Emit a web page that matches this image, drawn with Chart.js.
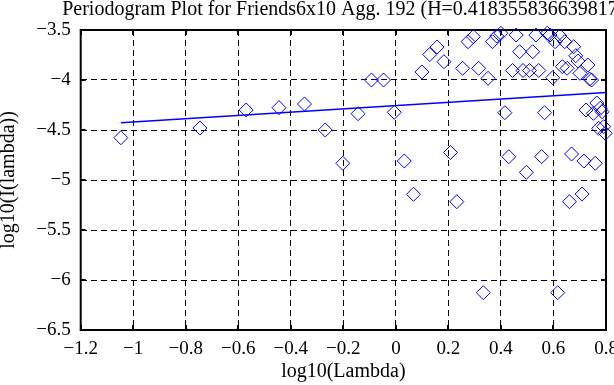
<!DOCTYPE html>
<html>
<head>
<meta charset="utf-8">
<script src="https://cdn.jsdelivr.net/npm/chart.js@4"></script>
<style>
  html, body { margin: 0; padding: 0; background: #fff; overflow: hidden; }
  #wrap { width: 614px; height: 385px; position: relative; }
</style>
</head>
<body>
<div id="wrap"><canvas id="c" width="614" height="385"></canvas></div>
<script>
const chartTitle = 'Periodogram Plot for Friends6x10 Agg. 192 (H=0.418355836639817)';
const xAxisTitle = 'log10(Lambda)';
const yAxisTitle = 'log10(I(lambda))';

const logLambda = [
  -1.047, -0.746, -0.570, -0.445, -0.348, -0.269, -0.202, -0.144, -0.093, -0.047,
  -0.006, 0.032, 0.067, 0.099, 0.129, 0.157, 0.183, 0.208, 0.232, 0.254,
  0.275, 0.295, 0.315, 0.333, 0.351, 0.368, 0.384, 0.400, 0.415, 0.430,
  0.444, 0.458, 0.471, 0.484, 0.497, 0.509, 0.521, 0.533, 0.544, 0.555,
  0.566, 0.576, 0.587, 0.597, 0.606, 0.616, 0.625, 0.634, 0.643, 0.652,
  0.661, 0.669, 0.677, 0.685, 0.693, 0.701, 0.709, 0.716, 0.724, 0.731,
  0.738, 0.745, 0.752, 0.759, 0.765, 0.772, 0.778, 0.785, 0.791, 0.797
];
const logI = [
  -4.577, -4.48, -4.30, -4.277, -4.24, -4.50, -4.833, -4.337, -4.00, -4.00,
  -4.323, -4.81, -5.143, -3.92, -3.745, -3.67, -3.817, -4.725, -5.217, -3.883,
  -3.617, -3.567, -3.883, -6.127, -3.983, -3.617, -3.56, -3.533, -4.327, -4.767,
  -3.905, -3.55, -3.717, -3.905, -4.923, -3.905, -3.717, -3.55, -3.905, -4.767,
  -4.327, -3.533, -3.55, -3.977, -3.617, -6.127, -3.56, -3.867, -3.617, -3.883,
  -5.217, -4.74, -3.667, -3.757, -3.81, -3.933, -5.14, -4.81, -4.30, -3.85,
  -3.99, -4.0, -4.333, -4.833, -4.23, -4.483, -4.283, -4.317, -4.467, -4.533
];
const fitX = [-1.047, 0.8];
const fitY = [-4.427, -4.125];

const xTicksRange = { min: -1.2, max: 0.8, step: 0.2 };
const yTicksRange = { min: -6.5, max: -3.5, step: 0.5 };

const FONT = "'Liberation Serif', 'DejaVu Serif', serif";

function fmt(v) {
  const r = Math.round(v * 10) / 10;
  return String(r).replace('-', '\u2212');
}

const framePlugin = {
  id: 'frame',
  beforeDatasetsDraw(chart) {
    const { ctx, chartArea: a, scales } = chart;
    ctx.save();
    ctx.strokeStyle = '#000';
    ctx.lineWidth = 2;
    ctx.strokeRect(a.left, a.top, a.right - a.left, a.bottom - a.top);
    const tl = 5;
    ctx.beginPath();
    scales.x.ticks.forEach(t => {
      const px = Math.round(scales.x.getPixelForValue(t.value));
      ctx.moveTo(px, a.bottom); ctx.lineTo(px, a.bottom - tl);
      ctx.moveTo(px, a.top); ctx.lineTo(px, a.top + tl);
    });
    scales.y.ticks.forEach(t => {
      const py = Math.round(scales.y.getPixelForValue(t.value));
      ctx.moveTo(a.left, py); ctx.lineTo(a.left + tl, py);
      ctx.moveTo(a.right, py); ctx.lineTo(a.right - tl, py);
    });
    ctx.stroke();
    ctx.restore();
  },
  afterDraw(chart) {
    const { ctx, chartArea: a } = chart;
    ctx.save();
    ctx.fillStyle = '#000';
    ctx.font = '20px ' + FONT;
    ctx.textAlign = 'center';
    ctx.textBaseline = 'alphabetic';
    ctx.fillText(chartTitle, (a.left + a.right) / 2, 15);
    ctx.restore();
  }
};

new Chart(document.getElementById('c'), {
  type: 'scatter',
  data: {
    datasets: [
      {
        label: 'periodogram',
        data: logLambda.map((x, i) => ({ x: x, y: logI[i] })),
        pointStyle: 'rectRot',
        pointRadius: 7,
        pointHoverRadius: 7,
        pointBorderWidth: 1,
        borderColor: '#0000ff',
        backgroundColor: 'rgba(0,0,0,0)',
        showLine: false,
        clip: false
      },
      {
        label: 'fit',
        type: 'line',
        data: fitX.map((x, i) => ({ x: x, y: fitY[i] })),
        borderColor: '#0000ff',
        borderWidth: 1.6,
        pointRadius: 0,
        fill: false,
        tension: 0
      }
    ]
  },
  options: {
    responsive: false,
    animation: false,
    devicePixelRatio: 1,
    layout: { padding: { left: 0, right: 6.7, top: 30, bottom: 0 } },
    plugins: { legend: { display: false }, tooltip: { enabled: false }, title: { display: false } },
    scales: {
      x: {
        type: 'linear',
        min: xTicksRange.min, max: xTicksRange.max,
        ticks: {
          stepSize: xTicksRange.step, color: '#000', padding: 8,
          font: { family: FONT, size: 19 }, maxRotation: 0, autoSkip: false,
          callback: v => fmt(v)
        },
        grid: { color: '#000', lineWidth: 1, drawTicks: false },
        border: { display: false, dash: [6, 4] },
        title: { display: true, text: xAxisTitle, color: '#000', font: { family: FONT, size: 20 }, padding: { top: 0, bottom: 1 } },
        afterFit(s) { s.height = 55; s.paddingLeft = 0; s.paddingRight = 0; }
      },
      y: {
        type: 'linear',
        min: yTicksRange.min, max: yTicksRange.max,
        ticks: {
          stepSize: yTicksRange.step, color: '#000', padding: 10,
          font: { family: FONT, size: 19 }, autoSkip: false,
          callback: v => fmt(v)
        },
        grid: { color: '#000', lineWidth: 1, drawTicks: false },
        border: { display: false, dash: [6, 4] },
        title: { display: true, text: yAxisTitle, color: '#000', font: { family: FONT, size: 20 }, padding: { top: -3, bottom: 0 } },
        afterFit(s) { s.width = 80.7; s.paddingTop = 0; s.paddingBottom = 0; }
      }
    }
  },
  plugins: [framePlugin]
});
</script>
</body>
</html>
